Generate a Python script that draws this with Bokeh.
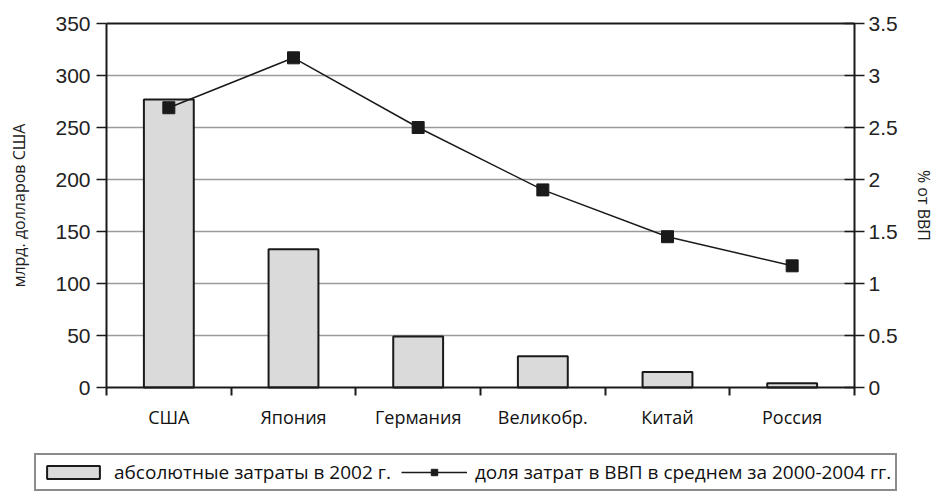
from bokeh.plotting import figure
from bokeh.models import (Range1d, LinearAxis, FixedTicker, Legend, LegendItem,
                          ColumnDataSource)
from bokeh.embed import file_html
from bokeh.resources import INLINE

categories = ["США", "Япония", "Германия", "Великобр.", "Китай", "Россия"]
spend_2002 = [277, 133, 49, 30, 15, 4]
gdp_share = [2.69, 3.17, 2.5, 1.9, 1.45, 1.17]
left_ticks = [0, 50, 100, 150, 200, 250, 300, 350]
right_ticks = [0, 0.5, 1, 1.5, 2, 2.5, 3, 3.5]
legend_labels = ["абсолютные затраты в 2002 г.",
                 "доля затрат в ВВП в среднем за 2000-2004 гг."]

n = len(categories)
xc = [i + 0.5 for i in range(n)]
src = ColumnDataSource(dict(x=xc, spend=spend_2002, share=gdp_share))

# layout in pixels: the plotting box spans x 106..854, y 23..387 of a 937x495 canvas
W, H = 937, 495
L, R, T, B = 106, 854, 23, 387
ymax = left_ticks[-1]
pmax = right_ticks[-1]
xs = (R - L) / n
ys = (B - T) / ymax
x_range = Range1d(-L / xs, n + (W - R) / xs)
y_range = Range1d(-(H - B) / ys, ymax + T / ys)
k = pmax / ymax

p = figure(width=W, height=H, output_backend="svg", toolbar_location=None,
           x_range=x_range, y_range=y_range,
           x_axis_location=None, y_axis_location=None,
           min_border_left=0, min_border_right=0, min_border_top=0, min_border_bottom=0)
p.extra_y_ranges = {"pct": Range1d(y_range.start * k, y_range.end * k)}
p.background_fill_color = "white"
p.border_fill_color = "white"
p.outline_line_color = None
p.grid.visible = False

# horizontal grid lines over the plotting box
p.segment(x0=0, x1=n, y0=left_ticks[1:-1], y1=left_ticks[1:-1],
          line_color="#9a9a9a", line_width=1.5)
p.segment(x0=0, x1=n, y0=ymax, y1=ymax, line_color="#1a1a1a", line_width=2)

def style_y(ax):
    ax.major_tick_line_width = 1.5
    ax.major_tick_line_color = "#1a1a1a"
    ax.minor_tick_out = 0
    ax.minor_tick_in = 0
    ax.axis_line_color = "#1a1a1a"
    ax.axis_line_width = 2
    ax.major_label_text_font = "Liberation Sans"
    ax.major_label_text_font_size = "21px"
    ax.major_label_text_color = "#222222"
    ax.axis_label_text_font = "Open Sans"
    ax.axis_label_text_font_style = "normal"
    ax.axis_label_text_font_size = "16px"
    ax.axis_label_text_color = "#222222"

# x axis at y = 0
xa = LinearAxis(fixed_location=0, bounds=(0, n),
                ticker=FixedTicker(ticks=xc, minor_ticks=list(range(n + 1))))
xa.major_label_overrides = {v: c for v, c in zip(xc, categories)}
xa.major_tick_out = 0
xa.major_tick_in = 0
xa.minor_tick_out = 8
xa.minor_tick_in = 0
xa.minor_tick_line_color = "#1a1a1a"
xa.minor_tick_line_width = 2
xa.axis_line_color = "#1a1a1a"
xa.axis_line_width = 2
xa.major_label_text_font = "Open Sans"
xa.major_label_text_font_size = "18px"
xa.major_label_text_color = "#111111"
xa.major_label_standoff = 9
p.add_layout(xa, "below")

# left axis at x = 0
ya = LinearAxis(fixed_location=0, bounds=(0, ymax), ticker=FixedTicker(ticks=left_ticks))
style_y(ya)
ya.major_tick_out = 10
ya.major_tick_in = 0
ya.major_label_standoff = 6
ya.axis_label = "млрд. долларов США"
ya.axis_label_standoff = 22
p.add_layout(ya, "left")

# right axis at x = n
ra = LinearAxis(fixed_location=n, y_range_name="pct", bounds=(0, pmax),
                ticker=FixedTicker(ticks=right_ticks))
style_y(ra)
ra.major_tick_out = 10
ra.major_tick_in = 10
ra.major_label_standoff = 4
ra.axis_label = "% от ВВП"
ra.axis_label_standoff = 12
p.add_layout(ra, "right")

BAR = dict(fill_color="#dadada", line_color="#1a1a1a", line_width=2)
bars = p.vbar(x="x", top="spend", bottom=0, width=0.4, source=src, **BAR)
ln = p.line(x="x", y="share", source=src, y_range_name="pct",
            line_color="#1a1a1a", line_width=1.5)
mk = p.scatter(x="x", y="share", source=src, y_range_name="pct", marker="square",
               size=12, fill_color="#1a1a1a", line_color="#1a1a1a")

legend = Legend(items=[
    LegendItem(label=legend_labels[0], renderers=[bars]),
    LegendItem(label=legend_labels[1], renderers=[ln, mk]),
], orientation="horizontal", location=(34, 4))
legend.label_text_font = "Open Sans"
legend.label_text_font_size = "19px"
legend.label_text_color = "#111111"
legend.border_line_color = "#1a1a1a"
legend.border_line_width = 2
legend.background_fill_color = "white"
legend.glyph_width = 66
legend.glyph_height = 16
legend.spacing = 10
legend.padding = 4
legend.margin = 0
legend.label_standoff = 8
p.add_layout(legend)

open("out.html", "w").write(file_html(p, INLINE))
